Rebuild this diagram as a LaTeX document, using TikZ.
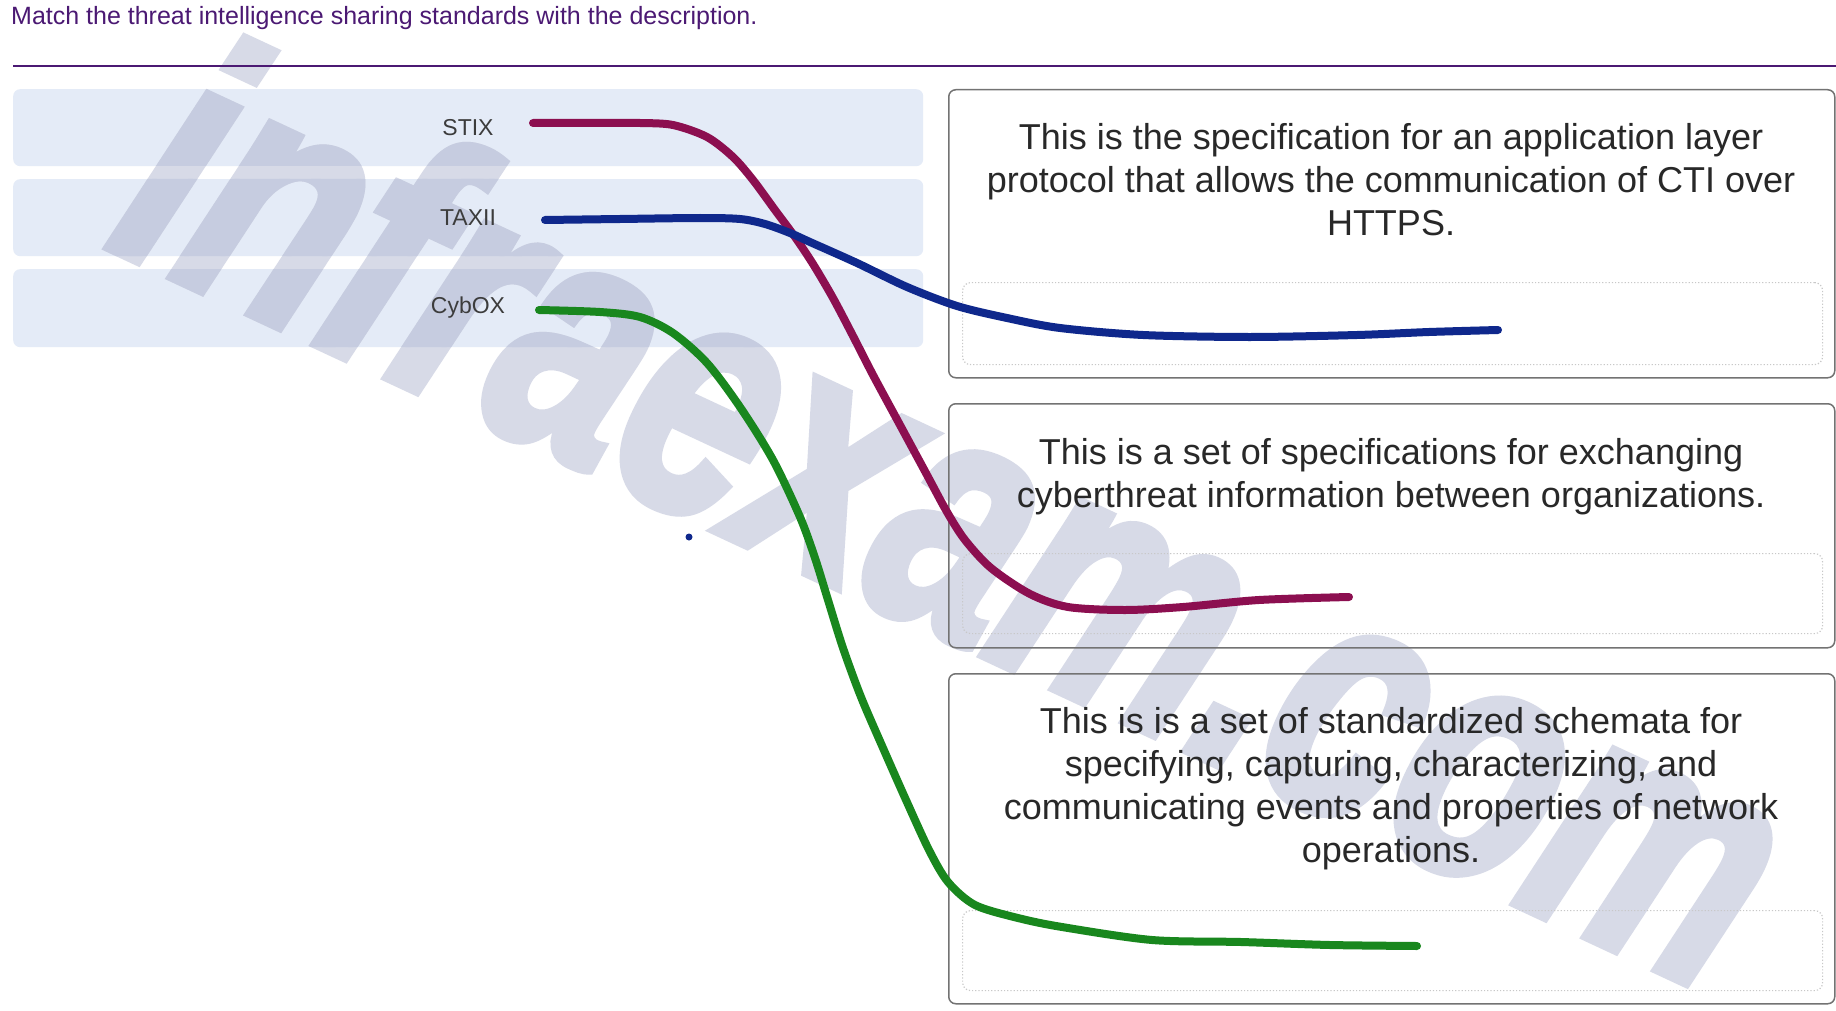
\documentclass[tikz,border=0pt]{standalone}
\usepackage{fontspec}
\setmainfont{Liberation Sans}
\newfontfamily\wmfont{Liberation Sans}[BoldItalicFeatures={FakeBold=3}]
\definecolor{titlepurple}{RGB}{75,25,115}
\definecolor{leftfill}{RGB}{228,235,247}
\definecolor{labelgray}{RGB}{60,60,60}
\definecolor{boxborder}{RGB}{115,115,115}
\definecolor{desctext}{RGB}{40,40,40}
\definecolor{dotborder}{RGB}{200,200,200}
\definecolor{stixcol}{RGB}{140,15,80}
\definecolor{taxiicol}{RGB}{15,40,140}
\definecolor{cyboxcol}{RGB}{25,135,30}
\definecolor{wmlight}{RGB}{215,218,231}
\definecolor{wmdark}{RGB}{198,204,224}
\tikzset{
  leftbox/.style={fill=leftfill, rounded corners=7pt, inner sep=0pt, anchor=north west, minimum width=910pt},
  stdlabel/.style={font=\fontsize{23}{27}\selectfont, text=labelgray, inner sep=0pt},
  descbox/.style={draw=boxborder, line width=1.5pt, rounded corners=7pt, inner sep=0pt, anchor=north west, minimum width=886pt},
  dropbox/.style={draw=dotborder, dotted, line width=1.2pt, rounded corners=8pt, inner sep=0pt, anchor=north west, minimum width=860pt},
  desctxt/.style={font=\fontsize{36}{43}\selectfont, text=desctext, align=center, anchor=north, inner sep=0pt},
  matchline/.style={line width=8pt, line cap=round, line join=round},
  watermark/.style={font=\wmfont\fontsize{340}{340}\selectfont\bfseries\itshape, inner sep=0pt, transform shape},
  wmframe/.style={shift={(960,510)}, rotate=-25, xscale=0.74},
}
\begin{document}
\begin{tikzpicture}[x=1pt,y=-1pt]
\fill[white] (0,0) rectangle (1836,1011);
\useasboundingbox (0,0) rectangle (1836,1011);

% left answer boxes
\node[leftbox, minimum height=77pt] (lb1) at (13,89) {};
\node[leftbox, minimum height=77pt] (lb2) at (13,179) {};
\node[leftbox, minimum height=78pt] (lb3) at (13,269) {};

% watermark (lighter on white, darker where it lies over the answer boxes)
\begin{scope}[wmframe]
\node[watermark, text=wmlight] (wm) at (0,0) {infraexam.com};
\end{scope}
\begin{scope}
\clip[rounded corners=7pt] (13,89) rectangle (923,166) (13,179) rectangle (923,256) (13,269) rectangle (923,347);
\begin{scope}[wmframe]
\node[watermark, text=wmdark] (wmb) at (0,0) {infraexam.com};
\end{scope}
\end{scope}

% right description boxes
\node[descbox, minimum height=288pt] (rb1) at (948,89) {};
\node[descbox, minimum height=244pt] (rb2) at (948,403) {};
\node[descbox, minimum height=330pt] (rb3) at (948,673) {};

% drop zones
\node[dropbox, minimum height=82pt] (db1) at (962,282) {};
\node[dropbox, minimum height=80pt] (db2) at (962,553) {};
\node[dropbox, minimum height=80pt] (db3) at (962,910) {};

% title and rule
\node[anchor=base west, inner sep=0pt, font=\fontsize{25}{30}\selectfont, text=titlepurple] (title) at (11,25) {Match the threat intelligence sharing standards with the description.};
\coordinate (rl) at (13,66.5);
\coordinate (rr) at (1836,66.5);
\draw[titlepurple, line width=2pt] (rl) -- (rr);

% labels
\node[stdlabel] (stix) at (468,127.5) {STIX};
\node[stdlabel] (taxii) at (468,217.5) {TAXII};
\node[stdlabel] (cybox) at (468,308) {CybOX};

% descriptions
\node[desctxt] (t1) at (1391,122.8) {This is the specification for an application layer\\protocol that allows the communication of CTI over\\HTTPS.};
\node[desctxt] (t2) at (1391,437.8) {This is a set of specifications for exchanging\\cyberthreat information between organizations.};
\node[desctxt] (t3) at (1391,706.8) {This is is a set of standardized schemata for\\specifying, capturing, characterizing, and\\communicating events and properties of network\\operations.};

% matching curves
\coordinate (s1) at (533,123);
\coordinate (e1) at (1349,597);
\coordinate (s2) at (545,220);
\coordinate (e2) at (1498,330);
\coordinate (s3) at (539,310);
\coordinate (e3) at (1417,946);

\draw[matchline, stixcol] plot[smooth, tension=0.5] coordinates {(s1) (600,123) (640,123) (673,125) (707,137) (733,157) (753,180) (775,210) (795,237) (813,264) (833,298) (853,336) (873,375) (900,425) (927,475) (947,512) (965,540) (991,568) (1030,594) (1068,607) (1125,610) (1183,607) (1259,600) (e1)};
\draw[matchline, taxiicol] plot[smooth, tension=0.5] coordinates {(s2) (620,219) (700,218) (740,219) (765,224) (790,233) (810,242) (857,263) (907,287) (957,306) (1007,318) (1060,328) (1143,335) (1250,337) (1357,335) (1429,332) (e2)};
\draw[matchline, cyboxcol] plot[smooth, tension=0.5] coordinates {(s3) (600,312) (640,317) (673,333) (707,363) (740,407) (773,460) (800,517) (815,558) (828,600) (843,648) (861,697) (883,748) (906,800) (929,850) (948,882) (975,905) (1018,918) (1062,927) (1152,940) (1241,942) (1330,945) (e3)};

% stray dot
\fill[taxiicol] (689,537) circle (3.5);
\end{tikzpicture}
\end{document}
